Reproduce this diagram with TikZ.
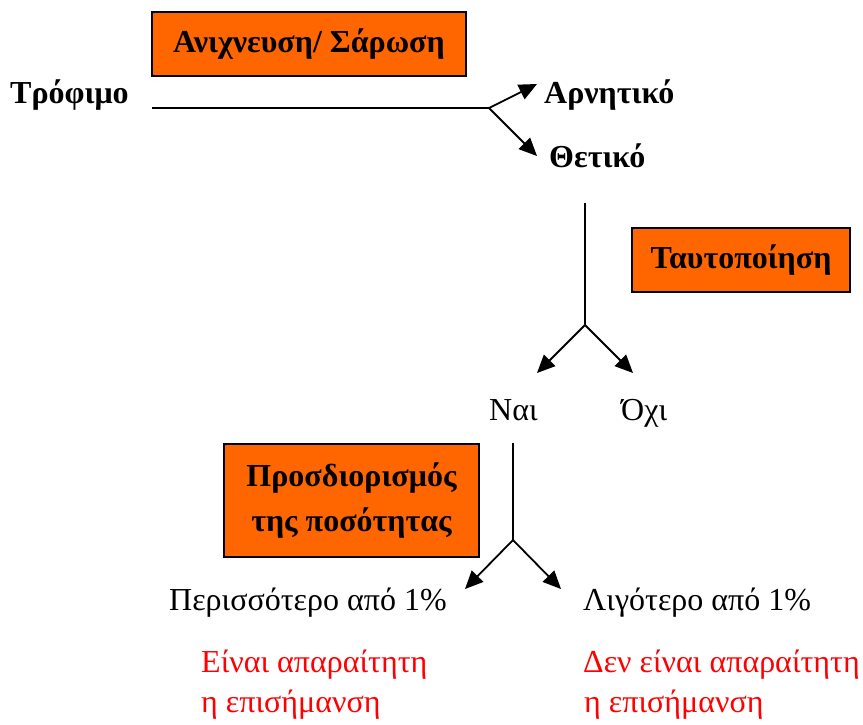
\documentclass[tikz,border=0pt]{standalone}
\usepackage{fontspec}
\setmainfont{Liberation Serif}
\usetikzlibrary{arrows.meta}
\definecolor{boxorange}{HTML}{FF6600}
\definecolor{txtred}{HTML}{FF0000}
\tikzset{
  txt/.style={font=\fontsize{32}{38}\selectfont, inner sep=0pt, anchor=base west},
  btxt/.style={txt, font=\fontsize{32}{38}\selectfont\bfseries},
  redtxt/.style={txt, text=txtred},
  obox/.style={draw=black, line width=1.3pt, fill=boxorange, inner sep=0pt,
    font=\fontsize{32}{38}\selectfont\bfseries, align=center},
  conn/.style={line width=1.8pt},
  arr/.style={conn, -{Triangle[length=18pt,width=16pt]}}
}
\begin{document}
\begin{tikzpicture}[x=1pt,y=-1pt]
\useasboundingbox (0,0) rectangle (863,724);
% boxes
\node[obox, minimum width=314pt, minimum height=64pt] (b1) at (309,44) {Ανιχνευση/ Σάρωση};
\node[obox, minimum width=218pt, minimum height=64pt] (b2) at (741,260) {Ταυτοποίηση};
\node[obox, minimum width=255pt, minimum height=113pt, font=\fontsize{32}{45}\selectfont\bfseries] (b3) at (351.5,500.5)
  {Προσδιορισμός\\της ποσότητας};
% texts
\node[btxt] (food) at (10,103) {Τρόφιμο};
\node[btxt] (neg) at (544,103) {Αρνητικό};
\node[btxt] (pos) at (549,167) {Θετικό};
\node[txt] (yes) at (489,420) {Ναι};
\node[txt] (no) at (621,420) {Όχι};
\node[txt] (more) at (169,610) {Περισσότερο από 1\%};
\node[txt] (less) at (583,610) {Λιγότερο από 1\%};
\node[redtxt] (r1a) at (201,672) {Είναι απαραίτητη};
\node[redtxt] (r1b) at (201,712) {η επισήμανση};
\node[redtxt] (r2a) at (583,672) {Δεν είναι απαραίτητη};
\node[redtxt] (r2b) at (584,712) {η επισήμανση};
% connector points
\coordinate (h0) at (152,108);
\coordinate (h1) at (489,108);
\coordinate (t1) at (537,84);
\coordinate (t2) at (537,156);
\coordinate (v0) at (585,203);
\coordinate (v1) at (585,325);
\coordinate (t3) at (537,373);
\coordinate (t4) at (633,373);
\coordinate (w0) at (513,443);
\coordinate (w1) at (513,540);
\coordinate (t5) at (465,589);
\coordinate (t6) at (561,589);
% connectors
\draw[conn] (h0) -- (h1);
\draw[arr] (h1) -- (t1);
\draw[arr] (h1) -- (t2);
\draw[conn] (v0) -- (v1);
\draw[arr] (v1) -- (t3);
\draw[arr] (v1) -- (t4);
\draw[conn] (w0) -- (w1);
\draw[arr] (w1) -- (t5);
\draw[arr] (w1) -- (t6);
\end{tikzpicture}
\end{document}
